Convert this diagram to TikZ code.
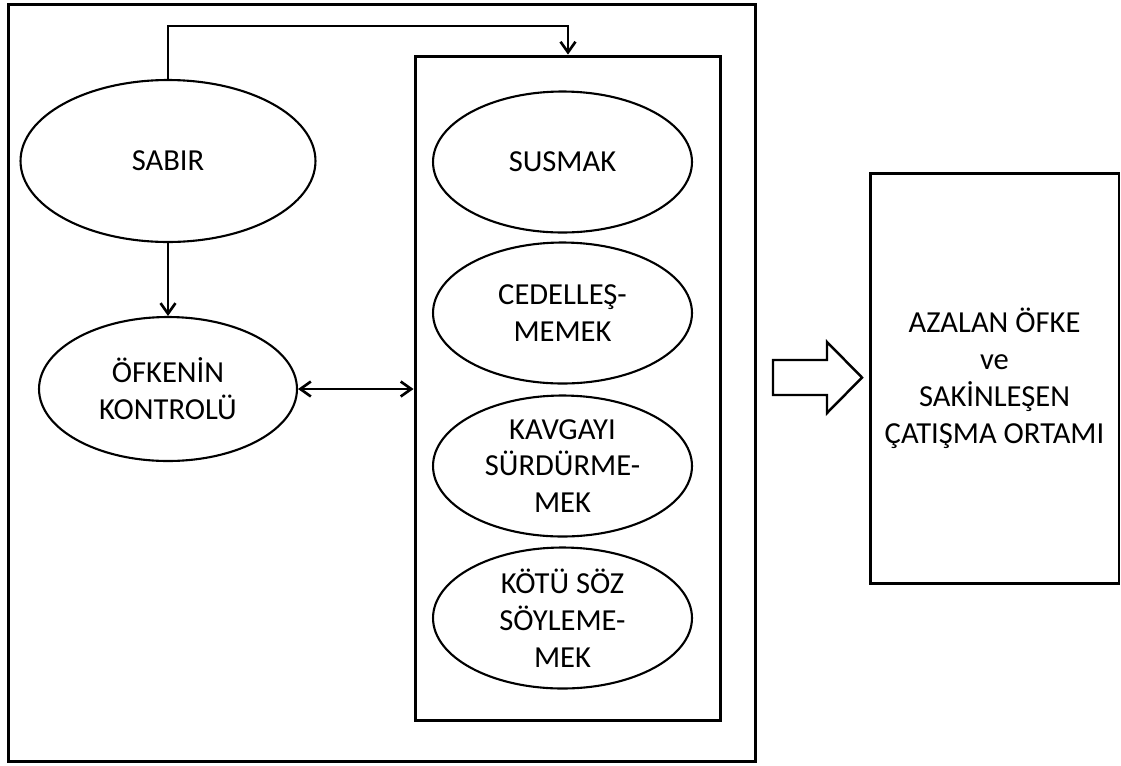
\documentclass[tikz,border=0pt]{standalone}
\usepackage{fontspec}
\setmainfont{Carlito}
\usetikzlibrary{arrows.meta,shapes,positioning}
\tikzset{every picture/.style={/utils/exec={\fontsize{17.4pt}{21pt}\selectfont}}}

\begin{document}
\begin{tikzpicture}[x=0.02cm, y=-0.02cm, >={Straight Barb[length=6pt,width=8.5pt]},
    oval/.style={ellipse, draw=black, line width=1.2pt, align=center, inner sep=-5pt},
    box/.style={rectangle, draw=black, line width=1.7pt, inner sep=0pt, align=center},
    link/.style={line width=1.5pt}]
    \useasboundingbox (0,0) rectangle (1121,765);

    \node[box, minimum width=14.96cm, minimum height=15.16cm] (outer) at (382,383) {};
    \node[box, minimum width=6.12cm, minimum height=13.3cm] (inner) at (568,388.5) {};
    \node[box, minimum width=4.98cm, minimum height=8.22cm] (result) at (994.5,378.5) {AZALAN ÖFKE\\ve\\SAKİNLEŞEN\\ÇATIŞMA ORTAMI};

    \node[oval, minimum width=5.9cm, minimum height=3.24cm] (sabir) at (168,161) {SABIR};
    \node[oval, minimum width=5.16cm, minimum height=2.88cm] (ofke) at (168,389) {ÖFKENİN\\KONTROLÜ};

    \node[oval, minimum width=5.18cm, minimum height=2.82cm] (susmak) at (562.5,162) {SUSMAK};
    \node[oval, minimum width=5.18cm, minimum height=2.82cm] (cedel) at (562.5,313) {CEDELLEŞ-\\MEMEK};
    \node[oval, minimum width=5.18cm, minimum height=2.82cm] (kavga) at (562.5,466) {KAVGAYI\\SÜRDÜRME-\\MEK};
    \node[oval, minimum width=5.18cm, minimum height=2.82cm] (kotu) at (562.5,618) {KÖTÜ SÖZ\\SÖYLEME-\\MEK};

    \coordinate (top) at (0,26);
    \draw[->, link] (sabir.north) -- (sabir.north |- top) -| (inner.north);
    \draw[->, link] (sabir.south) -- (ofke.north);
    \draw[<->, link] (ofke.east) -- (ofke.east -| inner.west);

    % hollow arrow towards the result
    \draw[line width=1.4pt] (773,360) -- (827,360) -- (827,342) -- (862,377.5) -- (827,413) -- (827,395) -- (773,395) -- cycle;

\end{tikzpicture}
\end{document}
